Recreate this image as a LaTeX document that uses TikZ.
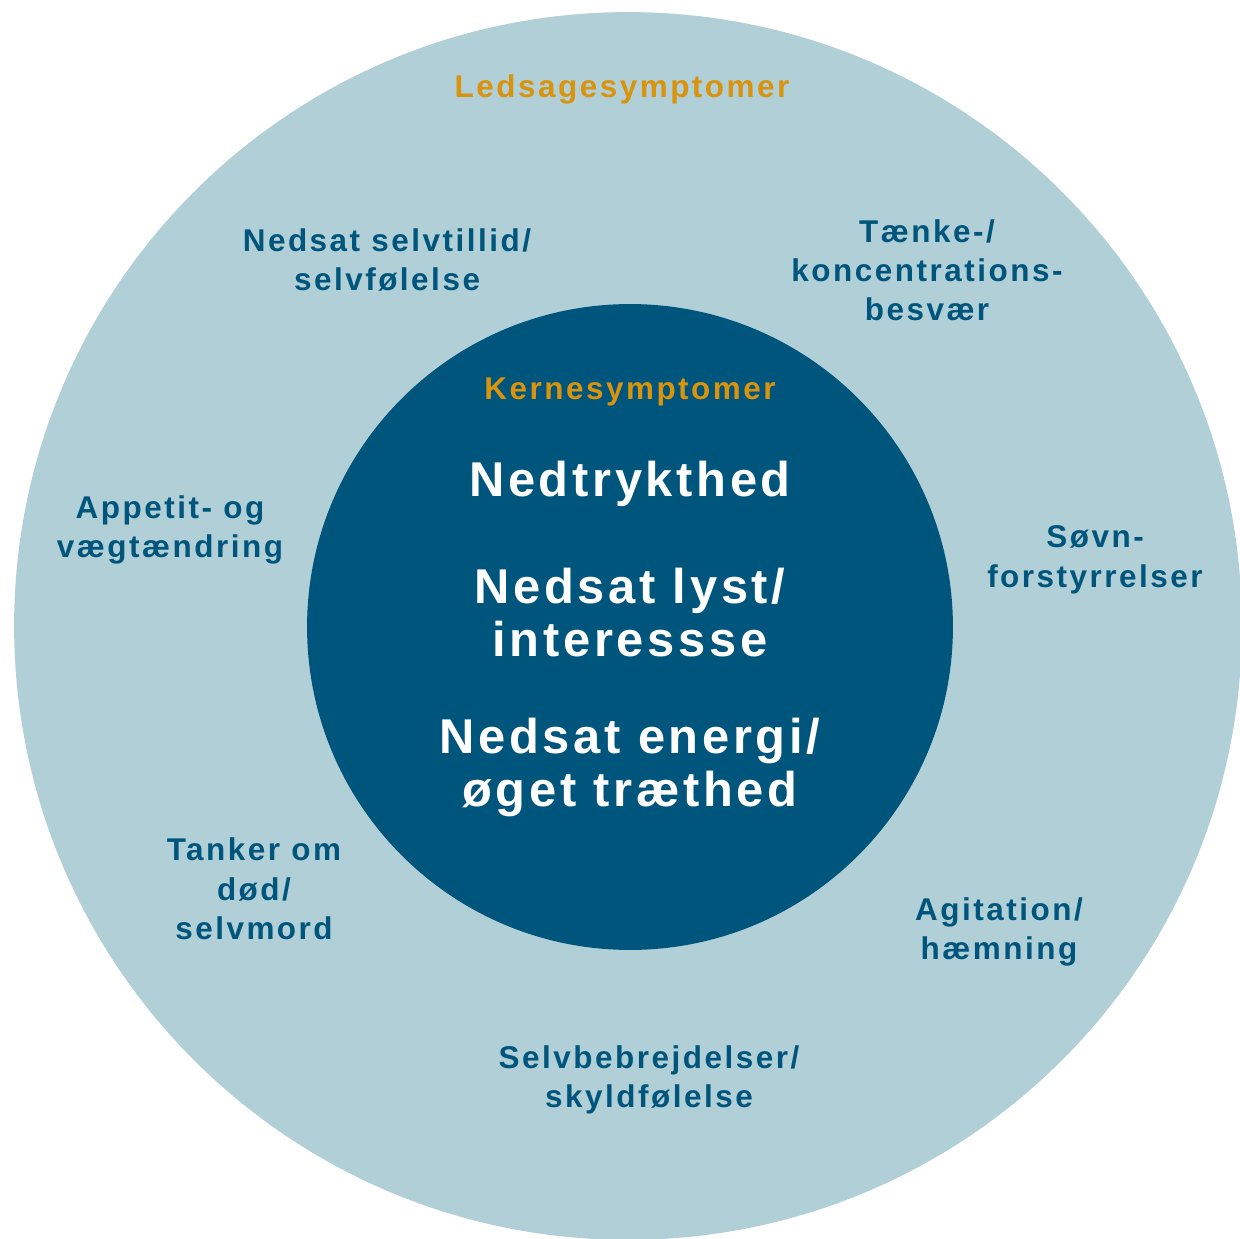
\documentclass[tikz,border=0pt]{standalone}
\usepackage{fontspec}
\setmainfont{Liberation Sans}
\newfontfamily\ringfont[LetterSpace=8]{Liberation Sans}
\newfontfamily\corefont[LetterSpace=7.5]{Liberation Sans}
\definecolor{paleteal}{HTML}{B1CFD6}
\definecolor{deepblue}{HTML}{00557C}
\definecolor{amber}{HTML}{D9930D}

\tikzset{
  symptom/.style={text=deepblue, align=center, anchor=base,
    font=\ringfont\bfseries\fontsize{17.9}{22.2}\selectfont},
  heading/.style={symptom, text=amber},
  core/.style={text=white, align=center, anchor=base,
    font=\corefont\bfseries\fontsize{27.8}{29.8}\selectfont}
}

\begin{document}
\begin{tikzpicture}[x=0.02cm, y=-0.02cm]
            \useasboundingbox (0,0) rectangle (1240,1239);
            \fill[paleteal] (628,626) circle (12.28cm);
            \fill[deepblue] (630,627) circle (6.46cm);
            % outer ring (base = last line)
            \node[heading] (ledsage) at (622,98) {Ledsagesymptomer};
            \node[symptom] (selvtillid) at (387,291) {Nedsat selvtillid/\\selvfølelse};
            \node[symptom] (taenke) at (927,321) {Tænke-/\\koncentrations-\\besvær};
            \node[symptom] (appetit) at (170,558) {Appetit- og\\vægtændring};
            \node[symptom] (soevn) at (1095,587) {Søvn-\\forstyrrelser};
            \node[symptom] (tanker) at (254,939) {Tanker om\\død/\\selvmord};
            \node[symptom] (agitation) at (999,959) {Agitation/\\hæmning};
            \node[symptom] (skyld) at (649,1107) {Selvbebrejdelser/\\skyldfølelse};
            % inner circle
            \node[heading] (kerne) at (630,400) {Kernesymptomer};
            \node[core] (nedtrykt) at (630,497) {Nedtrykthed};
            \node[core] (lyst) at (630,656) {Nedsat lyst/\\interessse};
            \node[core] (energi) at (630,806) {Nedsat energi/\\øget træthed};
\end{tikzpicture}
\end{document}
